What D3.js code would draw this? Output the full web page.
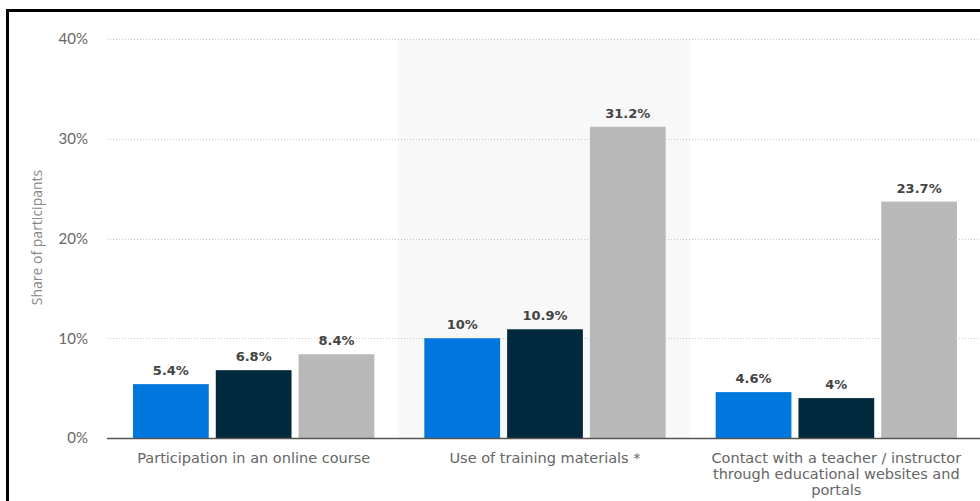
<!DOCTYPE html>
<html>
<head>
<meta charset="utf-8">
<script src="https://cdn.jsdelivr.net/npm/d3@7"></script>
<style>
  body { margin: 0; background: #fff; }
  svg { display: block; }
</style>
</head>
<body>
<svg id="chart" width="980" height="501"></svg>
<script>
"use strict"

const categories = [
    ["Participation in an online course"],
    ["Use of training materials *"],
    ["Contact with a teacher / instructor", "through educational websites and", "portals"]
]
const seriesNames = ["Series A", "Series B", "Series C"]
const seriesA = [5.4, 10, 4.6]
const seriesB = [6.8, 10.9, 4]
const seriesC = [8.4, 31.2, 23.7]
const valueLabels = [
    ["5.4%", "6.8%", "8.4%"],
    ["10%", "10.9%", "31.2%"],
    ["4.6%", "4%", "23.7%"]
]
const yTicks = [0, 10, 20, 30, 40]
const colors = ["#0077dc", "#00293d", "#b9b9b9"]

const svg = d3.select("#chart")
const margin = {left: 107, right: 981, top: 39, bottom: 438}

const x0 = d3.scaleBand()
    .domain(d3.range(categories.length))
    .range([margin.left, margin.right])

const x1 = d3.scaleBand()
    .domain(d3.range(seriesNames.length))
    .range([26, x0.bandwidth() - 24])
    .paddingInner(0.085)

const y = d3.scaleLinear()
    .domain([0, 40])
    .range([margin.bottom, margin.top])

// shaded band behind the middle category
svg.selectAll(".band")
    .data(d3.range(categories.length).filter(i => i % 2 === 1))
    .enter().append("rect")
    .attr("class", "band")
    .attr("x", i => x0(i))
    .attr("y", y(40))
    .attr("width", x0.bandwidth())
    .attr("height", y(0) - y(40))
    .attr("fill", "#f8f8f8")

// grid
svg.append("g")
    .selectAll("line")
    .data(yTicks.filter(t => t > 0))
    .enter().append("line")
    .attr("x1", margin.left)
    .attr("x2", 980)
    .attr("y1", d => Math.round(y(d)) + 0.5)
    .attr("y2", d => Math.round(y(d)) + 0.5)
    .attr("stroke", "#c8c8c8")
    .attr("stroke-width", 1)
    .attr("stroke-dasharray", "1,2")

// y tick labels
const yAxis = d3.axisLeft(y).tickValues(yTicks).tickFormat(d => d + "%").tickSize(0).tickPadding(0)
const yg = svg.append("g")
    .attr("transform", "translate(88,0)")
    .call(yAxis)
yg.select(".domain").remove()
yg.selectAll("text")
    .style("font-family", "Lato, 'Open Sans', sans-serif")
    .style("font-size", "15px")
    .attr("fill", "#666")

svg.append("text")
    .attr("transform", "translate(42," + (y(20) - 1) + ") rotate(-90)")
    .attr("text-anchor", "middle")
    .style("font-family", "'Open Sans', sans-serif")
    .style("font-size", "14px")
    .attr("fill", "#888")
    .text("Share of participants")

const rows = categories.map((c, i) => [seriesA[i], seriesB[i], seriesC[i]])

const groups = svg.selectAll(".group")
    .data(rows)
    .enter().append("g")
    .attr("class", "group")
    .attr("transform", (d, i) => "translate(" + x0(i) + ",0)")

groups.selectAll("rect")
    .data(d => d)
    .enter().append("rect")
    .attr("x", (d, j) => x1(j))
    .attr("y", d => y(d))
    .attr("width", x1.bandwidth())
    .attr("height", d => y(0) - y(d))
    .attr("fill", (d, j) => colors[j])

groups.selectAll(".val")
    .data((d, i) => d.map((v, j) => ({v: v, label: valueLabels[i][j]})))
    .enter().append("text")
    .attr("class", "val")
    .attr("x", (d, j) => x1(j) + x1.bandwidth() / 2)
    .attr("y", d => y(d.v) - 9)
    .attr("text-anchor", "middle")
    .style("font-family", "'DejaVu Sans', Verdana, sans-serif")
    .style("font-weight", "bold")
    .style("font-size", "13px")
    .attr("fill", "#444")
    .text(d => d.label)

// baseline
svg.append("line")
    .attr("x1", margin.left)
    .attr("x2", 980)
    .attr("y1", y(0) + 0.5)
    .attr("y2", y(0) + 0.5)
    .attr("stroke", "#555")
    .attr("stroke-width", 1.5)

// category labels
svg.selectAll(".xlab")
    .data(categories)
    .enter().append("text")
    .attr("class", "xlab")
    .attr("text-anchor", "middle")
    .attr("x", (d, i) => x0(i) + x0.bandwidth() / 2 + 1)
    .attr("y", 463)
    .style("font-family", "'DejaVu Sans', sans-serif")
    .style("font-size", "14.5px")
    .attr("fill", "#666")
    .each(function(d) {
        const t = d3.select(this)
        const cx = t.attr("x")
        d.forEach((line, k) => {
            t.append("tspan").attr("x", cx).attr("dy", k === 0 ? 0 : 16).text(line)
        })
    })

// outer frame
svg.append("rect")
    .attr("x", 7.5)
    .attr("y", 10.5)
    .attr("width", 1000)
    .attr("height", 600)
    .attr("fill", "none")
    .attr("stroke", "#000")
    .attr("stroke-width", 3)
</script>
</body>
</html>
